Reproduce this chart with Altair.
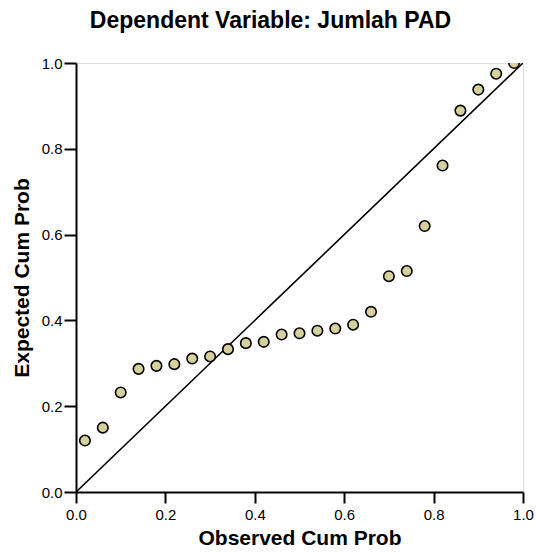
import altair as alt
import pandas as pd

observed = [0.02, 0.06, 0.10, 0.14, 0.18, 0.22, 0.26, 0.30, 0.34, 0.38,
            0.42, 0.46, 0.50, 0.54, 0.58, 0.62, 0.66, 0.70, 0.74, 0.78,
            0.82, 0.86, 0.90, 0.94, 0.98]
expected = [0.120, 0.150, 0.232, 0.287, 0.294, 0.298, 0.311, 0.316, 0.333, 0.347,
            0.350, 0.367, 0.370, 0.376, 0.381, 0.390, 0.420, 0.503, 0.515, 0.620,
            0.761, 0.889, 0.938, 0.975, 1.000]
diag_x = [0.0, 1.0]
diag_y = [0.0, 1.0]
ticks = [0.0, 0.2, 0.4, 0.6, 0.8, 1.0]

FONT = "Liberation Sans"

pts = pd.DataFrame({"obs": observed, "exp": expected})
diag = pd.DataFrame({"x": diag_x, "y": diag_y})

xscale = alt.Scale(domain=[0, 1], nice=False, zero=False)
yscale = alt.Scale(domain=[0, 1], nice=False, zero=False)

xaxis = alt.Axis(values=ticks, format=".1f", title="Observed Cum Prob", grid=False,
                 domainColor="black", domainWidth=2, tickColor="black", tickWidth=2,
                 tickSize=11, labelFont=FONT, labelFontSize=15, labelColor="black",
                 labelPadding=4, labelFlush=False, labelOverlap=False,
                 titleFont=FONT, titleFontSize=21, titleFontWeight="bold",
                 titleColor="black", titlePadding=5)
yaxis = alt.Axis(values=ticks, format=".1f", title="Expected Cum Prob", grid=False,
                 domainColor="black", domainWidth=2, tickColor="black", tickWidth=2,
                 tickSize=12, labelFont=FONT, labelFontSize=15, labelColor="black",
                 labelPadding=2, labelFlush=False, labelOverlap=False,
                 titleFont=FONT, titleFontSize=21, titleFontWeight="bold",
                 titleColor="black", titlePadding=9)

line = alt.Chart(diag).mark_line(color="black", strokeWidth=1.6, clip=True).encode(
    x=alt.X("x:Q", scale=xscale, axis=xaxis),
    y=alt.Y("y:Q", scale=yscale, axis=yaxis),
)

points = alt.Chart(pts).mark_point(
    shape="circle", filled=True, fill="#d6d09c", stroke="black", strokeWidth=1.6,
    size=110, opacity=1, clip=True
).encode(
    x=alt.X("obs:Q", scale=xscale),
    y=alt.Y("exp:Q", scale=yscale),
)

chart = (line + points).properties(
    width=447,
    height=429,
    autosize=alt.AutoSizeParams(type="none"),
    padding={"left": 76, "top": 63, "right": 14, "bottom": 61},
    title=alt.TitleParams(
        "Dependent Variable: Jumlah PAD", font=FONT, fontSize=23, fontWeight="bold",
        color="black", anchor="middle", frame="group", offset=23, dx=-29,
    ),
).configure_view(stroke="black", strokeWidth=2).configure(background="white")

chart.save("out.html", embed_options={"renderer": "svg", "actions": False})
